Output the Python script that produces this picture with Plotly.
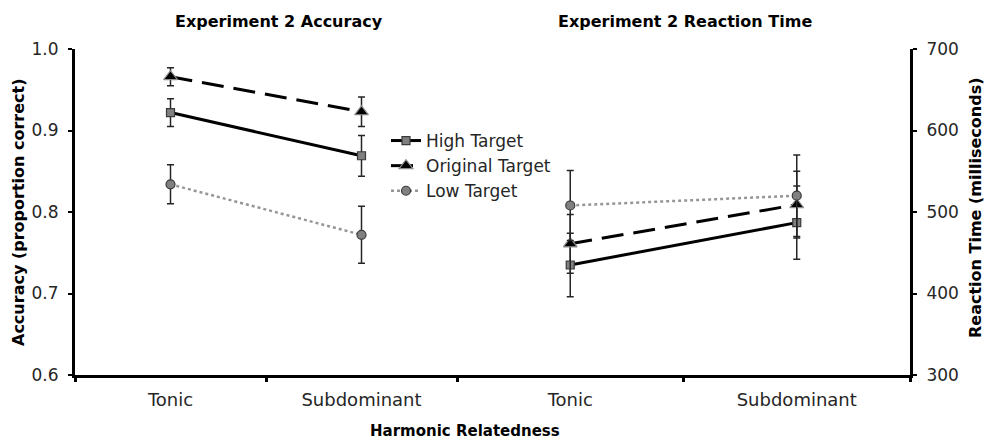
import plotly.graph_objects as go

categories = ["Tonic", "Subdominant"]
series_names = ["High Target", "Original Target", "Low Target"]

# Experiment 2 accuracy (proportion correct) and error bars
acc_high = [0.922, 0.869]
acc_high_err = [0.017, 0.025]
acc_orig = [0.966, 0.923]
acc_orig_err = [0.011, 0.018]
acc_low = [0.834, 0.772]
acc_low_err = [0.024, 0.035]

# Experiment 2 reaction time (ms) and error bars
rt_high = [435, 487]
rt_high_err = [39, 45]
rt_orig = [461, 509]
rt_orig_err = [36, 41]
rt_low = [508, 520]
rt_low_err = [43, 50]

acc_ticks = [0.6, 0.7, 0.8, 0.9, 1.0]
rt_ticks = [300, 400, 500, 600, 700]

FONT = "DejaVu Sans"
TXT = "#262626"

styles = {
    "High Target": dict(line=dict(color="black", width=3, dash="solid"),
                        marker=dict(symbol="square", size=8, color="#808080",
                                    line=dict(color="#3a3a3a", width=1.2))),
    "Original Target": dict(line=dict(color="black", width=3, dash="22px,10px"),
                            marker=dict(symbol="triangle-up", size=12, color="black",
                                        line=dict(color="#8c8c8c", width=1.2))),
    "Low Target": dict(line=dict(color="#969696", width=2.5, dash="dot"),
                       marker=dict(symbol="circle", size=9, color="#808080",
                                   line=dict(color="#3a3a3a", width=1.2))),
}

acc_data = {"High Target": (acc_high, acc_high_err),
            "Original Target": (acc_orig, acc_orig_err),
            "Low Target": (acc_low, acc_low_err)}
rt_data = {"High Target": (rt_high, rt_high_err),
           "Original Target": (rt_orig, rt_orig_err),
           "Low Target": (rt_low, rt_low_err)}

fig = go.Figure()
for name in series_names:
    vals, errs = acc_data[name]
    fig.add_trace(go.Scatter(
        x=categories, y=vals, name=name, mode="lines+markers",
        legendgroup=name, xaxis="x", yaxis="y",
        error_y=dict(type="data", array=errs, visible=True, color="#262626",
                     thickness=1.5, width=3.5),
        **styles[name]))
for name in series_names:
    vals, errs = rt_data[name]
    fig.add_trace(go.Scatter(
        x=categories, y=vals, name=name, mode="lines+markers",
        legendgroup=name, showlegend=False, xaxis="x2", yaxis="y2",
        error_y=dict(type="data", array=errs, visible=True, color="#262626",
                     thickness=1.5, width=3.5),
        **styles[name]))

split = (457 - 75) / 835

xcommon = dict(type="category", range=[-0.5, 1.5], tickson="boundaries",
               ticks="outside", ticklen=4, tickwidth=3, tickcolor="black",
               showline=True, linewidth=3, linecolor="black", showgrid=False,
               zeroline=False, tickfont=dict(family=FONT, size=18, color=TXT),
               ticklabelstandoff=6, fixedrange=True)
ycommon = dict(ticks="outside", ticklen=4, tickwidth=2, tickcolor="black",
               showline=True, linewidth=3, linecolor="black", showgrid=False,
               zeroline=False, tickfont=dict(family=FONT, size=17, color=TXT),
               ticklabelstandoff=6)

fig.update_layout(
    width=985, height=441,
    margin=dict(l=75, r=75, t=49, b=66),
    paper_bgcolor="white", plot_bgcolor="white",
    font=dict(family=FONT, color=TXT),
    xaxis=dict(domain=[0, split], anchor="y", **xcommon),
    xaxis2=dict(domain=[split, 1], anchor="y2", **xcommon),
    yaxis=dict(range=[0.6, 1.0], tickvals=acc_ticks, tickformat=".1f",
               anchor="x", side="left", **ycommon),
    yaxis2=dict(range=[300, 700], tickvals=rt_ticks, anchor="x2", side="right",
                **ycommon),
    showlegend=True,
    legend=dict(x=(386 - 75) / 835, y=(375 - 123) / 326, xanchor="left", yanchor="top",
                bgcolor="rgba(0,0,0,0)", font=dict(family=FONT, size=17, color=TXT),
                traceorder="grouped", tracegroupgap=0),
    annotations=[
        dict(text="<b>Experiment 2 Accuracy</b>", x=(279 - 75) / 835, y=(375 - 21) / 326,
             xref="paper", yref="paper", showarrow=False, xanchor="center", yanchor="middle",
             font=dict(family=FONT, size=16, color="black")),
        dict(text="<b>Experiment 2 Reaction Time</b>", x=(685 - 75) / 835, y=(375 - 21) / 326,
             xref="paper", yref="paper", showarrow=False, xanchor="center", yanchor="middle",
             font=dict(family=FONT, size=16, color="black")),
        dict(text="<b>Accuracy (proportion correct)</b>", x=(18 - 75) / 835, y=(375 - 212) / 326,
             xref="paper", yref="paper", showarrow=False, xanchor="center", yanchor="middle",
             textangle=-90, font=dict(family=FONT, size=16, color="black")),
        dict(text="<b>Reaction Time (milliseconds)</b>", x=(975 - 75) / 835, y=(375 - 208) / 326,
             xref="paper", yref="paper", showarrow=False, xanchor="center", yanchor="middle",
             textangle=-90, font=dict(family=FONT, size=16, color="black")),
        dict(text="<b>Harmonic Relatedness</b>", x=(465 - 75) / 835, y=(375 - 431) / 326,
             xref="paper", yref="paper", showarrow=False, xanchor="center", yanchor="middle",
             font=dict(family=FONT, size=15, color="black")),
    ],
)

fig.write_html("out.html", config={"displayModeBar": False},
               post_script="document.body.style.margin='0';document.body.style.overflow='hidden';")
